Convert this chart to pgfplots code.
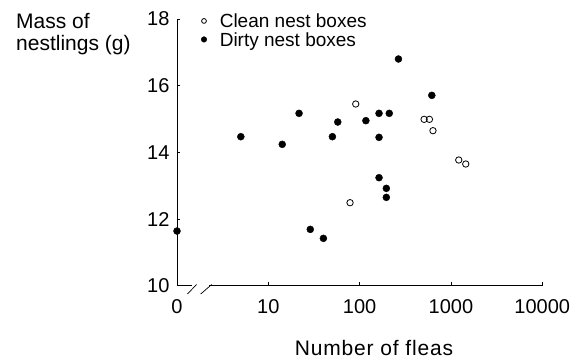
\documentclass[border=0pt]{standalone}
\usepackage{fontspec}
\setmainfont{Liberation Sans}
\usepackage{pgfplots}
\pgfplotsset{compat=1.18}
\begin{document}
\begin{tikzpicture}[font=\fontsize{20}{22}\selectfont]
\useasboundingbox (-177pt,-73.3pt) rectangle (401pt,285.7pt);
\begin{axis}[
  scale only axis, width=365.3pt, height=266.7pt,
  xmode=log, xmin=1, xmax=10000, ymin=10, ymax=18,
  axis lines=left, axis line style={-, line width=0.8pt},
  xtick={1,10,100,1000,10000}, xticklabels={0,10,100,1000,10000},
  xminorticks=false,
  ytick={10,12,14,16,18},
  tick align=inside, major tick length=3.5pt,
  tick style={black, line width=0.7pt},
  /pgf/number format/assume math mode=true,
  ticklabel style={font=\fontsize{20}{22}\selectfont},
  xticklabel style={anchor=base, yshift=-27.5pt},
  yticklabel style={anchor=east, xshift=-4pt},
  clip=false,
  legend cell align=left,
  legend image code/.code={\draw[mark repeat=2,mark phase=2,#1] plot coordinates {(0cm,0cm) (0.3cm,0cm) (0.6cm,0cm)};},
  legend style={draw=none, fill=none, inner sep=0pt, at={(axis description cs:0,1)}, anchor=north west,
    xshift=24pt, yshift=5pt, row sep=5pt, column sep=13pt,
    nodes={inner sep=0pt, text height=13.5pt, text depth=0pt},
    font=\fontsize{19}{21}\selectfont},
]
\addplot[only marks, mark=o, mark size=3.2pt, mark options={line width=0.8pt, black}, legend image post style={mark size=2.4pt}] coordinates {
(78.5,12.49) (90.6,15.45) (508,14.99) (581,14.99) (635,14.65) (1217,13.77) (1452,13.65)
};
\addlegendentry{Clean nest boxes}
\addplot[only marks, mark=*, mark size=3.5pt, mark options={black, fill=black}, legend image post style={mark size=2.8pt}] coordinates {
(1,11.64) (5.0,14.47) (14.2,14.24) (21.7,15.17) (28.8,11.69) (40.1,11.42)
(50.3,14.47) (57.6,14.91) (117,14.95) (163,15.17) (163,14.45) (163,13.24)
(196,12.92) (196,12.65) (211,15.17) (266,16.80) (617,15.71)
};
\addlegendentry{Dirty nest boxes}
\fill[white] ([xshift=15pt,yshift=-2pt]axis cs:1,10) rectangle ([xshift=32pt,yshift=2pt]axis cs:1,10);
\draw[line width=0.7pt] ([xshift=10.3pt,yshift=-8.3pt]axis cs:1,10) -- ++(9.4pt,9.5pt);
\draw[line width=0.7pt] ([xshift=23.7pt,yshift=-8.3pt]axis cs:1,10) -- ++(11pt,9.5pt);
\end{axis}
\node[anchor=north west, align=left, inner sep=0pt, font=\fontsize{21}{22}\selectfont] at (-161pt,273pt) {Mass of\\nestlings (g)};
\node[anchor=base, inner sep=0pt, font=\fontsize{21}{22}\selectfont\addfontfeatures{LetterSpace=4}] at (197pt,-69.3pt) {Number of fleas};
\end{tikzpicture}
\end{document}
